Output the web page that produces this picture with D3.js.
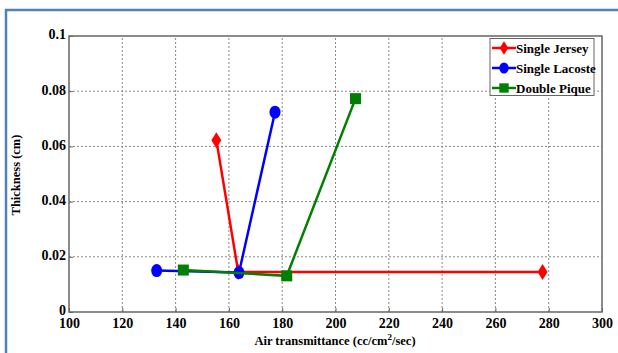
<!DOCTYPE html>
<html>
<head>
<meta charset="utf-8">
<script src="https://cdn.jsdelivr.net/npm/d3@7"></script>
<style>
  body { margin: 0; background: #fff; }
  svg text { font-family: "Liberation Serif", "Times New Roman", serif !important; font-weight: bold; }
</style>
</head>
<body>
<div id="chart"></div>
<script>
// series values
var jerseyX = [155.3, 163.5, 277.7];
var jerseyY = [0.0622, 0.0145, 0.0145];
var lacosteX = [132.9, 163.8, 177.3];
var lacosteY = [0.0150, 0.0143, 0.0724];
var piqueX = [142.9, 181.7, 207.5];
var piqueY = [0.0152, 0.0131, 0.0773];

var seriesNames = ["Single Jersey", "Single Lacoste", "Double Pique"];
var xTicks = [100, 120, 140, 160, 180, 200, 220, 240, 260, 280, 300];
var yTicks = [0, 0.02, 0.04, 0.06, 0.08, 0.1];

var width = 618, height = 353;
var margin = { left: 69, right: 16, top: 36, bottom: 41 };

var svg = d3.select("#chart").append("svg")
  .attr("width", width)
  .attr("height", height);

// outer frame (left + top edges only)
svg.append("path")
  .attr("d", "M6,353 L6,10 L618,10")
  .attr("fill", "none")
  .attr("stroke", "#4f81bd")
  .attr("stroke-width", 2.5);

var x = d3.scaleLinear().domain([100, 300]).range([margin.left, width - margin.right]);
var y = d3.scaleLinear().domain([0, 0.1]).range([height - margin.bottom, margin.top]);

var plot = svg.append("g");

// grid
plot.selectAll(".vgrid").data(xTicks.slice(1, -1)).enter().append("line")
  .attr("x1", function(d) { return x(d); })
  .attr("x2", function(d) { return x(d); })
  .attr("y1", y(0)).attr("y2", y(0.1))
  .attr("stroke", "#888").attr("stroke-width", 1).attr("stroke-dasharray", "2,2");
plot.selectAll(".hgrid").data(yTicks.slice(1, -1)).enter().append("line")
  .attr("y1", function(d) { return y(d); })
  .attr("y2", function(d) { return y(d); })
  .attr("x1", x(100)).attr("x2", x(300))
  .attr("stroke", "#888").attr("stroke-width", 1).attr("stroke-dasharray", "2,2");

// frame
plot.append("rect")
  .attr("x", x(100)).attr("y", y(0.1))
  .attr("width", x(300) - x(100)).attr("height", y(0) - y(0.1))
  .attr("fill", "none").attr("stroke", "#666").attr("stroke-width", 1.5);

// axes
var xAxis = d3.axisBottom(x).tickValues(xTicks).tickSize(-4).tickPadding(8);
var yAxis = d3.axisLeft(y).tickValues(yTicks).tickSize(-4).tickPadding(3)
  .tickFormat(function(d) { return d3.format("")(+d.toFixed(2)); });

var gx = svg.append("g").attr("transform", "translate(0," + y(0) + ")").call(xAxis);
var gy = svg.append("g").attr("transform", "translate(" + x(100) + ",0)").call(yAxis);
[gx, gy].forEach(function(g) {
  g.select(".domain").remove();
  g.selectAll("line").attr("stroke", "#666");
  g.selectAll("text")
    .attr("fill", "#000")
    .style("font-size", "14px");
});
gx.selectAll("text").attr("dy", "0.55em");
gy.selectAll("text").attr("dy", "0.2em");

// axis titles
var xt = svg.append("text")
  .attr("x", 335).attr("y", 345)
  .attr("text-anchor", "middle")
  .style("font-size", "12.5px");
xt.append("tspan").text("Air transmittance (cc/cm");
xt.append("tspan").attr("dy", -5).style("font-size", "9px").text("2");
xt.append("tspan").attr("dy", 5).text("/sec)");

svg.append("text")
  .attr("transform", "translate(20,175) rotate(-90)")
  .attr("text-anchor", "middle")
  .style("font-size", "12.5px")
  .text("Thickness (cm)");

// series
var colors = ["#ff0000", "#0000ff", "#007f00"];
var series = [
  { name: seriesNames[0], xs: jerseyX, ys: jerseyY, color: colors[0], shape: "diamond" },
  { name: seriesNames[1], xs: lacosteX, ys: lacosteY, color: colors[1], shape: "circle" },
  { name: seriesNames[2], xs: piqueX, ys: piqueY, color: colors[2], shape: "square" }
];

var line = d3.line()
  .x(function(d) { return x(d[0]); })
  .y(function(d) { return y(d[1]); });

function drawMarker(g, s, cx, cy, k) {
  if (s.shape === "circle") {
    g.append("ellipse").attr("cx", cx).attr("cy", cy)
      .attr("rx", 5.5 * k).attr("ry", 6.5 * k).attr("fill", s.color);
  } else if (s.shape === "square") {
    g.append("rect").attr("x", cx - 5.5 * k).attr("y", cy - 5.5 * k)
      .attr("width", 11 * k).attr("height", 11 * k).attr("fill", s.color);
  } else {
    g.append("path")
      .attr("d", "M" + cx + "," + (cy - 8 * k) + "L" + (cx + 5 * k) + "," + cy +
        "L" + cx + "," + (cy + 8 * k) + "L" + (cx - 5 * k) + "," + cy + "Z")
      .attr("fill", s.color);
  }
}

series.forEach(function(s) {
  var pts = s.xs.map(function(v, i) { return [v, s.ys[i]]; });
  var g = svg.append("g");
  g.append("path").datum(pts)
    .attr("d", line)
    .attr("fill", "none")
    .attr("stroke", s.color)
    .attr("stroke-width", 2.5);
  pts.forEach(function(p) { drawMarker(g, s, x(p[0]), y(p[1]), 1); });
});

// legend
var lg = svg.append("g");
lg.append("rect")
  .attr("x", 490).attr("y", 38.5).attr("width", 104).attr("height", 57)
  .attr("fill", "#fff").attr("stroke", "#666").attr("stroke-width", 1);
series.forEach(function(s, i) {
  var ly = 48 + i * 20;
  lg.append("line").attr("x1", 492).attr("x2", 516).attr("y1", ly).attr("y2", ly)
    .attr("stroke", s.color).attr("stroke-width", 2.5);
  drawMarker(lg, s, 504, ly, 0.85);
  lg.append("text").attr("x", 516).attr("y", ly + 4.5)
    .style("font-size", "13px")
    .text(s.name);
});
</script>
</body>
</html>
